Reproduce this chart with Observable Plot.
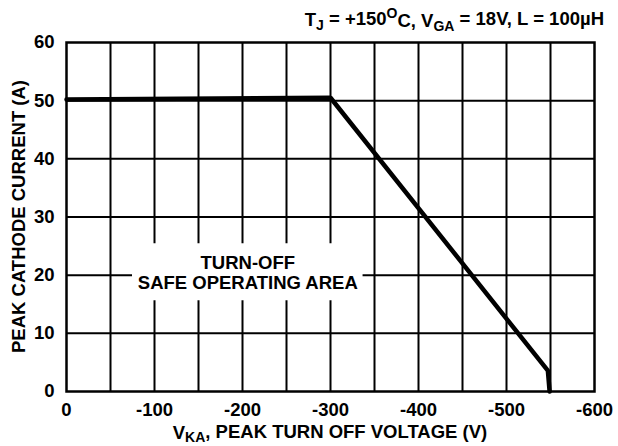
<!DOCTYPE html>
<html>
<head>
<meta charset="utf-8">
<script src="https://cdn.jsdelivr.net/npm/d3@7"></script>
<script src="https://cdn.jsdelivr.net/npm/@observablehq/plot@0.6"></script>
<style>
  html, body { margin: 0; padding: 0; background: #fff; }
  #chart svg { display: block; }
</style>
</head>
<body>
<div id="chart"></div>
<script>
// ---- data ----
const voltage = [0, -300, -547, -549];
const current = [50.2, 50.5, 3.6, 0];
const xTickValues = [0, -100, -200, -300, -400, -500, -600];
const yTickValues = [0, 10, 20, 30, 40, 50, 60];
const xGridValues = [-50, -100, -150, -200, -250, -300, -350, -400, -450, -500, -550];
const yGridValues = [10, 20, 30, 40, 50];
const areaLabel = "TURN-OFF\nSAFE OPERATING AREA";
const areaBox = [{x1: -75, x2: -337, y1: 15.6, y2: 25.4}];
const areaLabelPos = [{x: -206, y: 20.5}];

const curve = voltage.map((v, i) => ({v, i: current[i]}));
const labels = areaLabelPos.map(p => ({...p, t: areaLabel}));

const font = "'Liberation Sans', Arial, Helvetica, sans-serif";
const fs = 18.5;

const plot = Plot.plot({
  width: 618,
  height: 446,
  marginLeft: 66,
  marginRight: 24,
  marginTop: 42,
  marginBottom: 55,
  style: {fontFamily: font, fontWeight: "bold", fontSize: fs + "px", color: "black", background: "white", overflow: "visible"},
  x: {domain: [0, -600], label: null},
  y: {domain: [0, 60], label: null},
  marks: [
    Plot.ruleX(xGridValues, {stroke: "black", strokeWidth: 2}),
    Plot.ruleY(yGridValues, {stroke: "black", strokeWidth: 2}),
    Plot.rect(areaBox, {x1: "x1", x2: "x2", y1: "y1", y2: "y2", fill: "white"}),
    Plot.text(labels, {x: "x", y: "y", text: "t", lineHeight: 1.12, fill: "black", fontSize: fs, fontWeight: "bold", fontFamily: font}),
    Plot.frame({stroke: "black", strokeWidth: 2.5}),
    Plot.line(curve, {x: "v", y: "i", stroke: "black", strokeWidth: 4.5, strokeLinejoin: "miter"}),
    Plot.axisX({ticks: xTickValues, tickSize: 0, tickPadding: 11, tickFormat: d => String(d), fontSize: fs, fontWeight: "bold", label: null}),
    Plot.axisY({ticks: yTickValues, tickSize: 0, tickPadding: 12, tickFormat: d => String(d), fontSize: fs, fontWeight: "bold", label: null})
  ]
});

document.getElementById("chart").appendChild(plot);

const svg = d3.select(plot);
const xs = plot.scale("x");
const ys = plot.scale("y");
const xMid = (xs.range[0] + xs.range[1]) / 2;
const yMid = (ys.range[0] + ys.range[1]) / 2;

function addRich(parts, attrs) {
  const t = svg.append("text")
    .attr("font-family", font)
    .attr("font-weight", "bold")
    .attr("font-size", fs)
    .attr("fill", "black");
  for (const [k, v] of Object.entries(attrs)) t.attr(k, v);
  for (const p of parts) {
    const s = t.append("tspan").text(p.text);
    if (p.sub) s.attr("font-size", 14).attr("dy", p.dy || "0.3em");
    if (p.sup) s.attr("font-size", 14).attr("dy", "-0.45em");
    if (p.reset) s.attr("dy", p.reset);
  }
  return t;
}

// title (top right)
addRich([
  {text: "T"}, {text: "J", sub: true},
  {text: " = +150", reset: "-0.3em"}, {text: "O", sup: true},
  {text: "C, V", reset: "0.45em"}, {text: "GA", sub: true},
  {text: " = 18V, L = 100\u00B5H", reset: "-0.3em"}
], {x: 604, y: 26, "text-anchor": "end"});

// x axis title
addRich([
  {text: "V"}, {text: "KA", sub: true, dy: "0.22em"},
  {text: ", PEAK TURN OFF VOLTAGE (V)", reset: "-0.22em"}
], {x: xMid, y: 439, "text-anchor": "middle"});

// y axis title
addRich([{text: "PEAK CATHODE CURRENT (A)"}],
  {"text-anchor": "middle", transform: `translate(25,${yMid}) rotate(-90)`});
</script>
</body>
</html>
